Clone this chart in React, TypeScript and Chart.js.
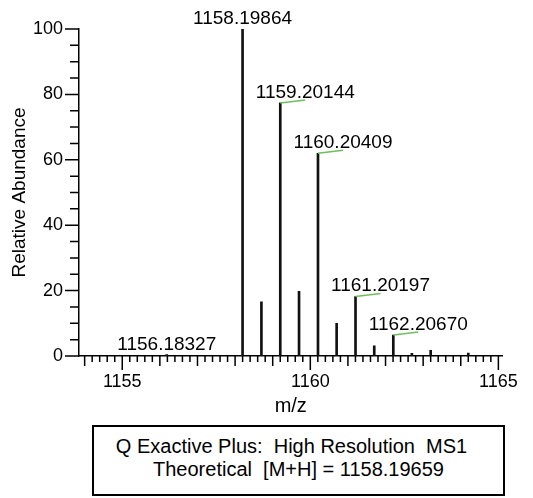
import React, { useEffect, useRef } from "react";
import { Chart, registerables } from "chart.js";

Chart.register(...registerables);

// ---- data ----
const peakMz = [1156.18327, 1158.19864, 1158.7, 1159.20144, 1159.7, 1160.20409, 1160.7, 1161.20197, 1161.7, 1162.2067, 1162.7, 1163.2, 1164.2];
const peakAbundance = [0.4, 100, 16.6, 77.4, 19.8, 62.0, 10.0, 18.2, 3.1, 6.4, 0.8, 1.7, 0.9];

const labelMz = [1156.18327, 1158.19864, 1159.20144, 1160.20409, 1161.20197, 1162.2067];
const labelAbundance = [0.4, 100, 77.4, 62.0, 18.2, 6.4];
const labelText = ["1156.18327", "1158.19864", "1159.20144", "1160.20409", "1161.20197", "1162.20670"];
const labelLeader = [false, false, true, true, true, true];

const xTickLabels = [1155, 1160, 1165];
const yTickLabels = [0, 20, 40, 60, 80, 100];
const xMin = 1153.85;
const xMax = 1165.11;

const FONT = '"Liberation Sans", Arial, Helvetica, sans-serif';

const decorPlugin = {
  id: "decor",
  afterDraw(chart: any) {
    const ctx = chart.ctx;
    const xs = chart.scales.x;
    const ys = chart.scales.y;
    const area = chart.chartArea;
    ctx.save();
    ctx.strokeStyle = "#000";
    ctx.lineWidth = 1.5;
    ctx.beginPath();
    for (let i = Math.ceil(xMin * 5); i <= Math.floor(xMax * 5); i++) {
      const px = xs.getPixelForValue(i / 5);
      const len = i % 25 === 0 ? 14 : i % 5 === 0 ? 10 : 6;
      ctx.moveTo(px, area.bottom);
      ctx.lineTo(px, area.bottom + len);
    }
    for (let v = 0; v <= 100; v += 5) {
      const py = ys.getPixelForValue(v);
      const len = v % 20 === 0 ? 14 : 9;
      ctx.moveTo(area.left, py);
      ctx.lineTo(area.left - len, py);
    }
    ctx.stroke();

    ctx.font = `19px ${FONT}`;
    ctx.fillStyle = "#000";
    ctx.textAlign = "center";
    ctx.textBaseline = "alphabetic";
    labelMz.forEach((mz, i) => {
      const px = xs.getPixelForValue(mz);
      const py = ys.getPixelForValue(labelAbundance[i]);
      if (labelLeader[i]) {
        ctx.strokeStyle = "#6cc05a";
        ctx.lineWidth = 1.5;
        ctx.beginPath();
        ctx.moveTo(px, py);
        ctx.lineTo(px + 25, py - 3);
        ctx.stroke();
        ctx.fillText(labelText[i], px + 25, py - 5);
      } else {
        ctx.fillText(labelText[i], px, py - 5);
      }
    });
    ctx.restore();
  },
};

export default function App() {
  const ref = useRef<HTMLCanvasElement | null>(null);

  useEffect(() => {
    if (!ref.current) return;
    const chart = new Chart(ref.current, {
      type: "bar",
      data: {
        datasets: [
          {
            data: peakMz.map((x, i) => ({ x, y: peakAbundance[i] })),
            backgroundColor: "#111",
            borderWidth: 0,
            barThickness: 2,
          } as any,
        ],
      },
      options: {
        responsive: false,
        animation: false,
        devicePixelRatio: 1,
        layout: { padding: { left: 0, top: 29, right: 28, bottom: 0 } },
        plugins: { legend: { display: false }, tooltip: { enabled: false } },
        scales: {
          x: {
            type: "linear",
            min: xMin,
            max: xMax,
            offset: false,
            grid: { display: false, drawTicks: false },
            border: { display: true, color: "#000", width: 1.5 },
            afterBuildTicks: (s: any) => {
              s.ticks = xTickLabels.map((value) => ({ value }));
            },
            afterFit: (s: any) => {
              s.height = 64;
            },
            ticks: {
              padding: 15,
              color: "#000",
              font: { size: 18, family: FONT },
              maxRotation: 0,
              autoSkip: false,
              callback: (v: any) => String(v),
            },
            title: {
              display: true,
              text: "m/z",
              color: "#000",
              font: { size: 20, family: FONT },
              padding: { top: 0, bottom: 2 },
            },
          },
          y: {
            min: 0,
            max: 100,
            grid: { display: false, drawTicks: false },
            border: { display: true, color: "#000", width: 1.5 },
            afterBuildTicks: (s: any) => {
              s.ticks = yTickLabels.map((value) => ({ value }));
            },
            afterFit: (s: any) => {
              s.width = 79;
            },
            ticks: {
              padding: 16,
              color: "#000",
              font: { size: 18, family: FONT },
              callback: (v: any) => String(v),
            },
            title: {
              display: true,
              text: "Relative Abundance",
              color: "#000",
              font: { size: 19, family: FONT },
              padding: { top: 8.6, bottom: 0 },
            },
          },
        },
      } as any,
      plugins: [decorPlugin],
    });
    return () => chart.destroy();
  }, []);

  return (
    <div style={{ position: "absolute", left: 0, top: 0, width: 533, height: 498, background: "#fff", overflow: "hidden" }}>
      <canvas ref={ref} width={533} height={420} style={{ position: "absolute", left: 0, top: 0, width: 533, height: 420 }} />
      <div
        style={{
          position: "absolute",
          left: 92,
          top: 425,
          width: 413,
          height: 71,
          boxSizing: "border-box",
          border: "2px solid #000",
          paddingTop: 7.5,
          fontFamily: FONT,
          fontSize: 20,
          lineHeight: "23px",
          color: "#000",
          textAlign: "center",
          whiteSpace: "pre",
        }}
      >
        <div style={{ paddingRight: 14 }}>{"Q Exactive Plus:  High Resolution  MS1"}</div>
        <div>{"Theoretical  [M+H] = 1158.19659"}</div>
      </div>
    </div>
  );
}
